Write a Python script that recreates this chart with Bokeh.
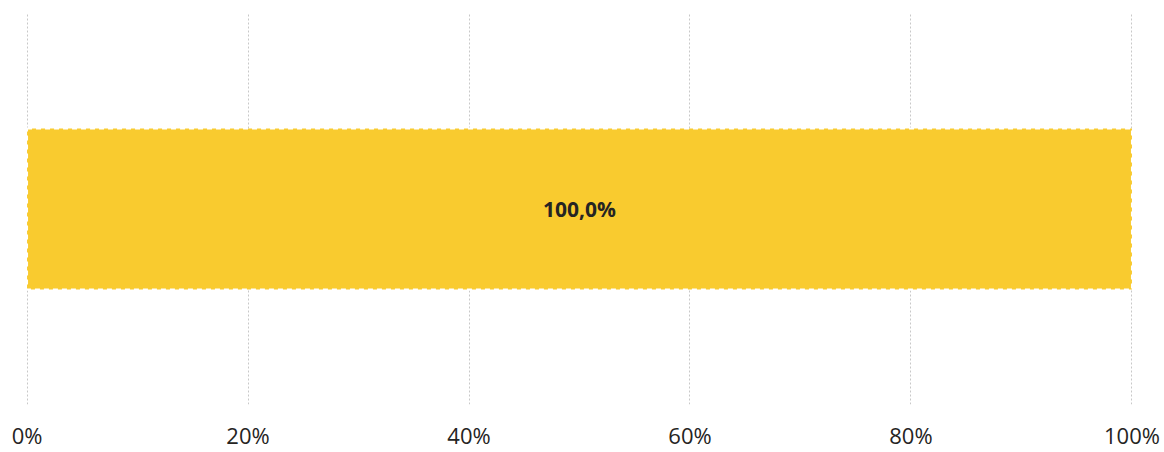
from bokeh.plotting import figure
from bokeh.models import Range1d, FactorRange, FixedTicker
from bokeh.core.properties import value
from bokeh.embed import file_html
from bokeh.resources import INLINE

categories = ["Total"]
shares = [100.0]
bar_labels = ["100,0%"]
tick_values = [0, 20, 40, 60, 80, 100]
tick_labels = ["0%", "20%", "40%", "60%", "80%", "100%"]

FONT = "Open Sans"

p = figure(width=1164, height=452, output_backend="svg", toolbar_location=None,
           x_range=Range1d(-0.05, 100.05), y_range=FactorRange(*categories, range_padding=0),
           min_border_left=26, min_border_right=32, min_border_top=13, min_border_bottom=0)
p.outline_line_color = None
p.background_fill_color = "white"

p.hbar(y=categories, left=[0] * len(shares), right=shares, height=0.412,
       fill_color="#F9CB2F", line_color=None)
p.hbar(y=categories, left=[0] * len(shares), right=shares, height=0.412,
       fill_color=None, line_color="white", line_width=2, line_dash="5 4")
p.text(x=[s / 2 for s in shares], y=categories, text=bar_labels,
       text_align="center", text_baseline="middle", text_font=value(FONT),
       text_font_style="bold", text_font_size="21px", text_color="#252423")

p.yaxis.visible = False
p.ygrid.visible = False

p.xaxis.ticker = FixedTicker(ticks=tick_values)
p.xaxis.major_label_overrides = {v: l for v, l in zip(tick_values, tick_labels)}
p.xaxis.axis_line_color = None
p.xaxis.major_tick_line_color = None
p.xaxis.minor_tick_line_color = None
p.xaxis.major_tick_out = 0
p.xaxis.major_tick_in = 0
p.xaxis.major_label_standoff = 15
p.xaxis.major_label_text_font = FONT
p.xaxis.major_label_text_font_size = "22px"
p.xaxis.major_label_text_color = "#252423"

p.xgrid.ticker = FixedTicker(ticks=tick_values)
p.xgrid.grid_line_color = "#C8C8C8"
p.xgrid.grid_line_dash = "2 2"
p.xgrid.grid_line_width = 1

open("out.html", "w").write(file_html(p, INLINE))
